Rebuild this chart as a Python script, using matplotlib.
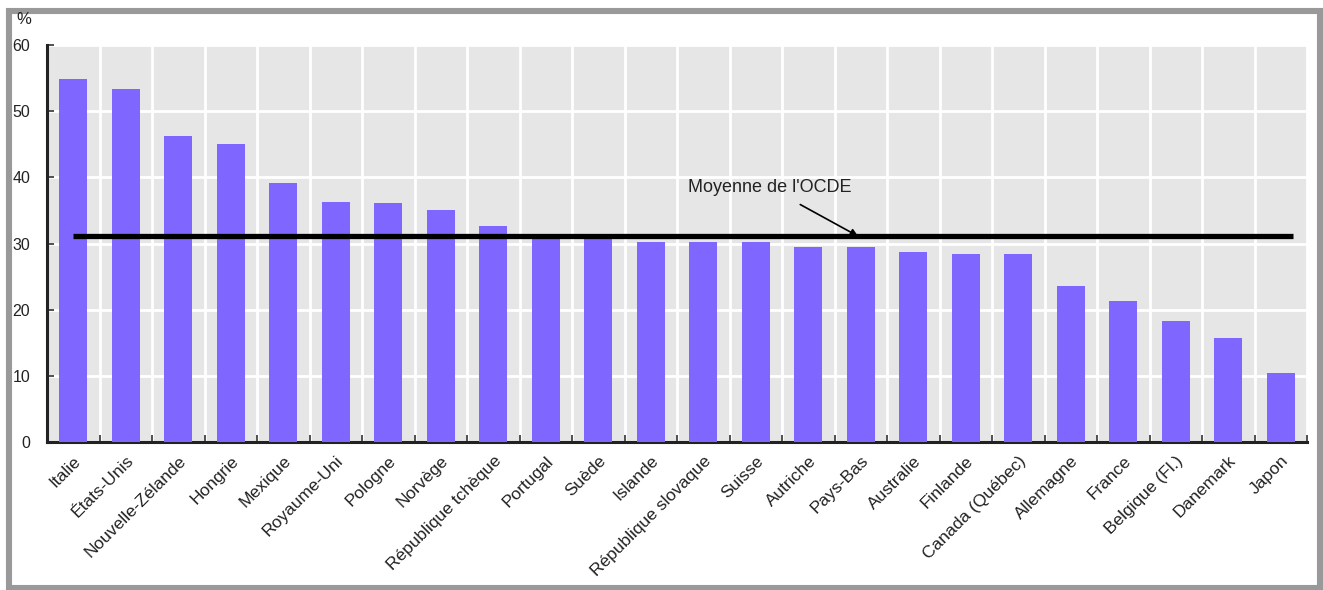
import numpy as np
import matplotlib.pyplot as plt
from matplotlib.patches import Rectangle

# values (%)
pays = ['Italie', 'États-Unis', 'Nouvelle-Zélande', 'Hongrie', 'Mexique',
        'Royaume-Uni', 'Pologne', 'Norvège', 'République tchèque', 'Portugal',
        'Suède', 'Islande', 'République slovaque', 'Suisse', 'Autriche',
        'Pays-Bas', 'Australie', 'Finlande', 'Canada (Québec)', 'Allemagne',
        'France', 'Belgique (Fl.)', 'Danemark', 'Japon']
valeurs = [54.9, 53.4, 46.2, 45.1, 39.2, 36.3, 36.1, 35.1, 32.6, 30.9,
           30.8, 30.3, 30.3, 30.3, 29.4, 29.4, 28.7, 28.4, 28.4, 23.6,
           21.3, 18.3, 15.7, 10.4]
moyenne_ocde = 31.1
yticks = [0, 10, 20, 30, 40, 50, 60]

plt.rcParams['font.family'] = ['Liberation Sans', 'DejaVu Sans']

W, H = 1323, 590
fig = plt.figure(figsize=(W / 100, H / 100), dpi=100)

# grey frame around the whole picture
fig.patches.append(Rectangle((9 / W, 2 / H), 1311 / W, 577 / H, transform=fig.transFigure,
                             fill=False, edgecolor='#999999', linewidth=4.4))

ax = fig.add_axes([47 / W, 1 - 442 / H, 1260 / W, 397 / H])
ax.set_facecolor('#e6e6e6')

x = np.arange(len(pays))
ax.bar(x, valeurs, width=0.53, color='#7f66ff', zorder=3)

# OECD average line
ax.plot([0, 23.23], [moyenne_ocde, moyenne_ocde], color='black', lw=3.8,
        solid_capstyle='butt', zorder=4)
ax.annotate("Moyenne de l'OCDE", xy=(14.95, moyenne_ocde), xytext=(13.27, 38.4),
            ha='center', va='center', fontsize=13, color='#222222',
            arrowprops=dict(arrowstyle='-|>', color='black', lw=1.2,
                            shrinkA=8, shrinkB=0, mutation_scale=11),
            zorder=5)

ax.set_xlim(-0.5, len(pays) - 0.5)
ax.set_ylim(0, 60)
ax.set_yticks(yticks)
ax.set_yticklabels([str(v) for v in yticks], fontsize=11.5, color='#222222')
ax.set_xticks(x)
ax.set_xticklabels(pays, rotation=45, ha='right', va='top',
                   rotation_mode='anchor', fontsize=12.5, color='#222222')
ax.set_xticks(np.arange(len(pays) + 1) - 0.5, minor=True)

ax.tick_params(axis='x', which='major', length=0, pad=8)
ax.tick_params(axis='x', which='minor', direction='in', length=5, width=1.2,
               color='#333333')
ax.tick_params(axis='y', direction='in', length=5, width=1.2, color='#333333',
               pad=12)

ax.grid(axis='y', which='major', color='white', lw=2, zorder=1)
ax.grid(axis='x', which='minor', color='white', lw=2, zorder=1)
ax.set_axisbelow(True)

for s in ['top', 'right']:
    ax.spines[s].set_visible(False)
for s in ['left', 'bottom']:
    ax.spines[s].set_color('#222222')
    ax.spines[s].set_linewidth(2.2)

fig.text(16 / W, 1 - 20 / H, '%', fontsize=12, va='center', color='#222222')

plt.savefig('out.png', dpi=100)
